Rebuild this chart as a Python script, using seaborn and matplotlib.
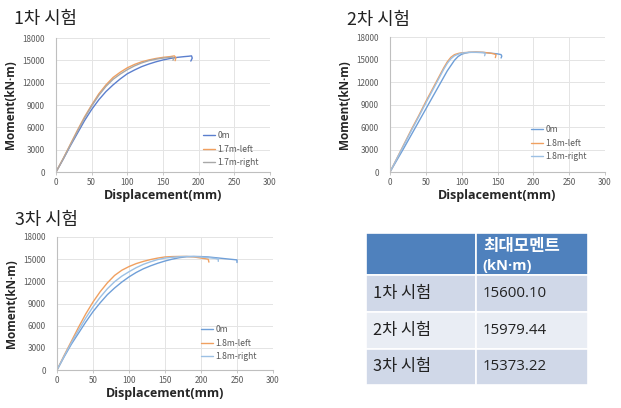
import numpy as np
import pandas as pd
import matplotlib
matplotlib.use("Agg")
import matplotlib.pyplot as plt
import seaborn as sns

sns.set_theme(style="white")
plt.rcParams['font.family'] = ['Noto Sans CJK KR', 'DejaVu Sans']

# ---------------- data ----------------
titles = ["1차 시험", "2차 시험", "3차 시험"]
series_names = [["0m", "1.7m-left", "1.7m-right"],
                ["0m", "1.8m-left", "1.8m-right"],
                ["0m", "1.8m-left", "1.8m-right"]]

# Test 1
t1_0m_x = [0, 10, 20, 30, 40, 50, 60, 70, 80, 90, 100, 110, 120, 130, 140, 150, 160, 170, 180, 186, 190, 191, 189]
t1_0m_y = [0, 1700, 3500, 5200, 6900, 8400, 9700, 10800, 11700, 12500, 13200, 13700, 14150, 14500, 14800, 15050, 15250, 15400, 15500, 15550, 15600, 15300, 14900]
t1_l_x = [0, 10, 20, 30, 40, 50, 60, 70, 80, 90, 100, 110, 120, 130, 140, 150, 160, 166, 168, 167]
t1_l_y = [0, 1800, 3700, 5600, 7400, 9000, 10500, 11700, 12700, 13400, 14000, 14450, 14800, 15050, 15250, 15400, 15500, 15600, 15350, 14950]
t1_r_x = [0, 10, 20, 30, 40, 50, 60, 70, 80, 90, 100, 110, 120, 130, 140, 150, 160, 163, 165, 164]
t1_r_y = [0, 1750, 3600, 5450, 7250, 8850, 10300, 11500, 12450, 13150, 13750, 14250, 14650, 14950, 15150, 15300, 15400, 15450, 15300, 15000]

# Test 2
t2_0m_x = [0, 10, 20, 30, 40, 50, 60, 70, 80, 90, 95, 100, 105, 110, 120, 130, 140, 150, 155, 156, 155]
t2_0m_y = [0, 1650, 3300, 5000, 6700, 8400, 10100, 11800, 13500, 14900, 15400, 15700, 15850, 15950, 15980, 15950, 15850, 15750, 15650, 15450, 15200]
t2_l_x = [0, 10, 20, 30, 40, 50, 60, 70, 75, 80, 85, 90, 95, 100, 110, 120, 130, 140, 145, 148, 147]
t2_l_y = [0, 1900, 3800, 5700, 7500, 9400, 11200, 13000, 13900, 14700, 15300, 15650, 15800, 15900, 15950, 15980, 15950, 15850, 15750, 15650, 15250]
t2_r_x = [0, 10, 20, 30, 40, 50, 60, 70, 75, 80, 85, 90, 95, 100, 110, 120, 130, 133, 132]
t2_r_y = [0, 1850, 3700, 5550, 7350, 9200, 11000, 12800, 13700, 14500, 15100, 15500, 15700, 15850, 15950, 15950, 15900, 15850, 15500]

# Test 3
t3_0m_x = [0, 10, 20, 30, 40, 50, 60, 70, 80, 90, 100, 110, 120, 130, 140, 150, 160, 170, 180, 190, 200, 210, 220, 230, 240, 250, 250]
t3_0m_y = [0, 1800, 3500, 5000, 6500, 7900, 9100, 10200, 11100, 11900, 12600, 13200, 13700, 14100, 14450, 14750, 15000, 15200, 15330, 15370, 15350, 15300, 15200, 15100, 15000, 14900, 14550]
t3_l_x = [0, 10, 20, 30, 40, 50, 60, 70, 80, 90, 100, 110, 120, 130, 140, 150, 160, 170, 180, 190, 200, 210, 211]
t3_l_y = [0, 2000, 3900, 5800, 7600, 9200, 10600, 11800, 12800, 13500, 14000, 14400, 14700, 14950, 15150, 15300, 15350, 15370, 15370, 15300, 15150, 15000, 14600]
t3_r_x = [0, 10, 20, 30, 40, 50, 60, 70, 80, 90, 100, 110, 120, 130, 140, 150, 160, 170, 180, 190, 200, 210, 220, 224, 224]
t3_r_y = [0, 1900, 3700, 5400, 7050, 8550, 9850, 11000, 11950, 12700, 13300, 13850, 14300, 14650, 14950, 15150, 15250, 15330, 15370, 15350, 15300, 15200, 15100, 15000, 14700]

curves = [
    [(t1_0m_x, t1_0m_y), (t1_l_x, t1_l_y), (t1_r_x, t1_r_y)],
    [(t2_0m_x, t2_0m_y), (t2_l_x, t2_l_y), (t2_r_x, t2_r_y)],
    [(t3_0m_x, t3_0m_y), (t3_l_x, t3_l_y), (t3_r_x, t3_r_y)],
]

palettes = [["#5b7fce", "#f0a060", "#a8a8a8"],
            ["#6f9fd8", "#f0a060", "#9cc0e4"],
            ["#6f9fd8", "#f0a060", "#9cc0e4"]]

# Table data
table_header_1 = "최대모멘트"
table_header_2 = "(kN·m)"
table_rows = ["1차 시험", "2차 시험", "3차 시험"]
table_values = ["15600.10", "15979.44", "15373.22"]

x_ticks = [0, 50, 100, 150, 200, 250, 300]
y_ticks = [0, 3000, 6000, 9000, 12000, 15000, 18000]

LATIN_BOLD = ["Open Sans", "DejaVu Sans"]

# ---------------- figure ----------------
W, H = 621, 408
fig = plt.figure(figsize=(W / 100, H / 100), dpi=100)
fig.patch.set_facecolor("white")

def frac(x0, y0, x1, y1):
    return [x0 / W, 1 - y1 / H, (x1 - x0) / W, (y1 - y0) / H]

axes_boxes = [frac(56, 38, 270, 172), frac(390, 37, 605, 172), frac(57, 237, 273, 370)]
title_pos = [(14, 19), (347, 20), (15, 220)]
legend_anchor = [(200, 128), (528, 122), (198, 322)]

for i in range(3):
    ax = fig.add_axes(axes_boxes[i])
    frames = []
    for name, (xs, ys) in zip(series_names[i], curves[i]):
        frames.append(pd.DataFrame({"Displacement": xs, "Moment": ys, "series": name}))
    df = pd.concat(frames, ignore_index=True)
    sns.lineplot(data=df, x="Displacement", y="Moment", hue="series",
                 hue_order=series_names[i], palette=palettes[i], sort=False,
                 estimator=None, units="series", linewidth=1.0, ax=ax)
    ax.set_xlim(0, 300)
    ax.set_ylim(0, 18000)
    ax.set_xticks(x_ticks)
    ax.set_yticks(y_ticks)
    ax.grid(True, color="#e4e4e4", linewidth=0.7)
    for s in ["top", "right"]:
        ax.spines[s].set_visible(False)
    for s in ["left", "bottom"]:
        ax.spines[s].set_color("#bfbfbf")
        ax.spines[s].set_linewidth(0.8)
    ax.tick_params(axis="both", labelsize=5.8, labelcolor="#595959", pad=2)
    ax.tick_params(axis="x", bottom=True, length=2.5, color="#bfbfbf", width=0.6)
    ax.tick_params(axis="y", left=False)
    ax.set_xlabel("Displacement(mm)", fontsize=9, fontweight="bold", color="#262626", labelpad=1,
                  family=LATIN_BOLD)
    ax.set_ylabel("Moment(kN·m)", fontsize=8.5, fontweight="bold", color="#262626", labelpad=4,
                  family=LATIN_BOLD)
    lx, ly = legend_anchor[i]
    leg = ax.legend(title=None, loc="upper left",
                    bbox_to_anchor=(lx / W, 1 - ly / H), bbox_transform=fig.transFigure,
                    frameon=False, fontsize=6.2, handlelength=1.3, handletextpad=0.3,
                    labelspacing=0.5, borderaxespad=0)
    for t in leg.get_texts():
        t.set_color("#595959")
    tx, ty = title_pos[i]
    fig.text(tx / W, 1 - ty / H, titles[i], fontsize=12.8, va="center", ha="left", color="#222222")

# ---------------- table ----------------
tx0, ty0, tx1, ty1 = 366, 233, 588, 385
tab = fig.add_axes(frac(tx0, ty0, tx1, ty1))
tab.set_xlim(tx0, tx1)
tab.set_ylim(ty1, ty0)
tab.axis("off")
col_split = 476
row_edges = [233, 275, 312, 349, 385]
fills = ["#4f81bd", "#d0d8e8", "#e9edf4", "#d0d8e8"]
for r in range(4):
    y0, y1 = row_edges[r], row_edges[r + 1]
    for (c0, c1) in [(tx0, col_split), (col_split, tx1)]:
        tab.add_patch(plt.Rectangle((c0, y0), c1 - c0, y1 - y0, facecolor=fills[r],
                                    edgecolor="white", linewidth=1.2))
tab.text(col_split + 7, 246, table_header_1, color="white",
         fontsize=12, fontweight="bold", va="center", ha="left")
tab.text(col_split + 6, 266, table_header_2, color="white",
         fontsize=10.5, fontweight="bold", va="center", ha="left", family=LATIN_BOLD)
for r in range(3):
    yc = (row_edges[r + 1] + row_edges[r + 2]) / 2
    tab.text(tx0 + 7, yc, table_rows[r], fontsize=11.8, va="center", ha="left", color="#222222")
    tab.text(col_split + 7, yc, table_values[r], fontsize=10.8, va="center", ha="left", color="#222222",
             family=["Open Sans", "DejaVu Sans"])

fig.savefig("out.png", dpi=100, facecolor="white")
